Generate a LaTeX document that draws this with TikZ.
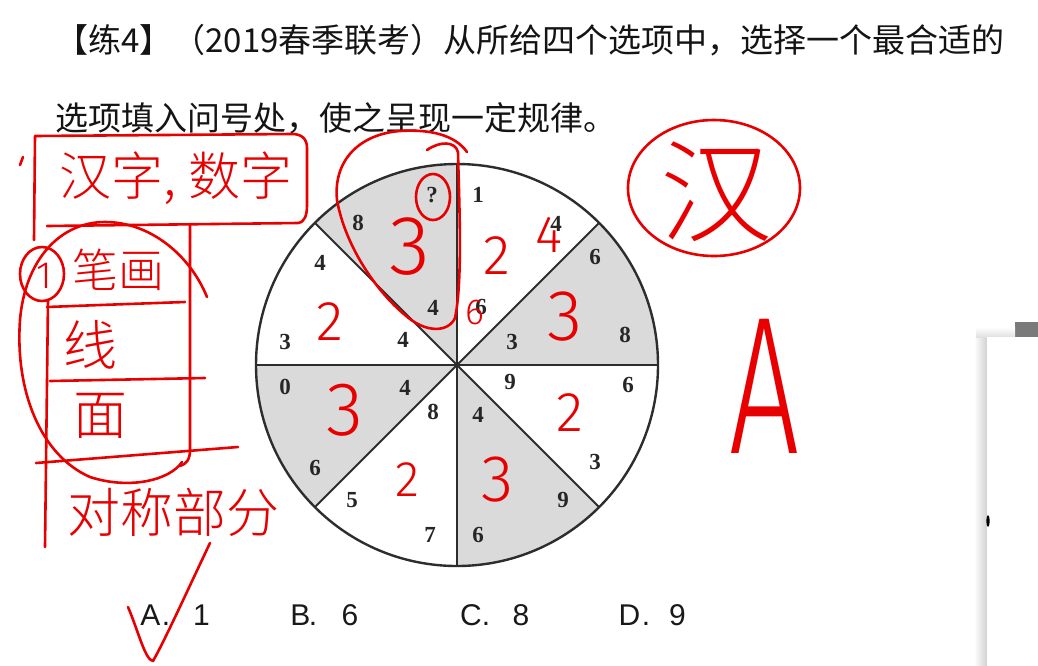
\documentclass[tikz,border=0pt]{standalone}
\usepackage{fontspec}
\setmainfont{Liberation Serif}
\newfontfamily\cjk{Noto Sans CJK SC}
\newfontfamily\cjkhand{Noto Sans CJK SC}[UprightFont={* Light}]
\newfontfamily\optfont{Liberation Sans}
\newfontfamily\handfont{Fira Sans}[UprightFont={* Light}]
\definecolor{inkred}{RGB}{232,0,0}
\definecolor{sectorgrey}{RGB}{218,218,218}
\definecolor{rimgrey}{RGB}{45,45,45}
\definecolor{tabgrey}{RGB}{122,122,122}
\tikzset{
  ink/.style={draw=inkred, line width=2.6, line cap=round, line join=round},
  inktext/.style={text=inkred, inner sep=0},
  num/.style={font=\fontsize{23}{23}\selectfont\bfseries, text=black!85, inner sep=0},
  title/.style={font=\cjk\fontsize{33}{33}\selectfont, text=black!92, inner sep=0, anchor=west},
  opt/.style={font=\optfont\fontsize{30}{30}\selectfont, text=black!90, inner sep=0, anchor=base},
  spoke/.style={draw=rimgrey, line width=1.8}
}
\begin{document}
\begin{tikzpicture}[x=1pt,y=-1pt]
\useasboundingbox (0,0) rectangle (1038,665);
\fill[white] (0,0) rectangle (1038,665);

% ---------- title ----------
\node[title] (t1) at (55,40) {【练4】（2019春季联考）从所给四个选项中，选择一个最合适的};
\node[title] (t2) at (55,118) {选项填入问号处，使之呈现一定规律。};

% ---------- disc ----------
\coordinate (O) at (457,365);
\begin{scope}
  \clip (O) circle[radius=201];
  \fill[sectorgrey] (O) -- (457,65) -- (157,65) -- cycle;
  \fill[sectorgrey] (O) -- (757,365) -- (757,65) -- cycle;
  \fill[sectorgrey] (O) -- (157,365) -- (157,665) -- cycle;
  \fill[sectorgrey] (O) -- (457,665) -- (757,665) -- cycle;
\end{scope}
\coordinate (pE) at (658,365);
\coordinate (pW) at (256,365);
\coordinate (pN) at (457,164);
\coordinate (pS) at (457,566);
\coordinate (pNE) at (599.1,222.9);
\coordinate (pNW) at (314.9,222.9);
\coordinate (pSE) at (599.1,507.1);
\coordinate (pSW) at (314.9,507.1);
\foreach \p in {pE,pW,pN,pS,pNE,pNW,pSE,pSW} \draw[spoke] (O) -- (\p);
\draw[draw=rimgrey, line width=2.4] (O) circle[radius=201];

% numbers on the disc
\node[num] (q)  at (432,195) {?};
\node[num] (n1) at (478,195) {1};
\node[num] (n2) at (358,223) {8};
\node[num] (n3) at (556,224) {4};
\node[num] (n4) at (320,263) {4};
\node[num] (n5) at (595,257) {6};
\node[num] (n6) at (433,308) {4};
\node[num] (n7) at (481,307) {6};
\node[num] (n8) at (285,342) {3};
\node[num] (n9) at (403,340) {4};
\node[num] (n10) at (512,342) {3};
\node[num] (n11) at (625,335) {8};
\node[num] (n12) at (285,387) {0};
\node[num] (n13) at (405,388) {4};
\node[num] (n14) at (510,382) {9};
\node[num] (n15) at (628,385) {6};
\node[num] (n16) at (433,412) {8};
\node[num] (n17) at (478,415) {4};
\node[num] (n18) at (315,468) {6};
\node[num] (n19) at (595,462) {3};
\node[num] (n20) at (352,500) {5};
\node[num] (n21) at (563,500) {9};
\node[num] (n22) at (430,535) {7};
\node[num] (n23) at (478,535) {6};

% ---------- options ----------
\node[opt] (oA)  at (150.5,625) {A};
\node[opt] (oAd) at (166,625) {.};
\node[opt] (oA1) at (201.5,625) {1};
\node[opt] (oB)  at (300.5,625) {B};
\node[opt] (oBd) at (313,625) {.};
\node[opt] (oB6) at (350,625) {6};
\node[opt] (oC)  at (471,625) {C};
\node[opt] (oCd) at (486,625) {.};
\node[opt] (oC8) at (521,625) {8};
\node[opt] (oD)  at (629.5,625) {D};
\node[opt] (oDd) at (646,625) {.};
\node[opt] (oD9) at (677.5,625) {9};

% ---------- right-hand panel ----------
\fill[tabgrey] (1015,322) rectangle (1038,337);
\shade[left color=white, right color=black!18] (974,337) rectangle (987,665);
\shade[top color=white, bottom color=black!12] (976,327) rectangle (1015,337);
\fill[white] (987,337) rectangle (1038,665);
\fill[black] (988,521) ellipse[x radius=1.6, y radius=6];

% ---------- red handwriting ----------
% box round the first words
\draw[ink] (47,226) -- (298,223) .. controls (305,222) and (307,215) .. (307,205)
  -- (307,148) .. controls (307,139) and (302,134) .. (292,134) -- (35,136) -- (34,240);
\draw[ink] (20,165) -- (23,157);
\node[inktext, font=\cjkhand\fontsize{52}{52}\selectfont] (h1) at (176,178) {汉字, 数字};
% column of items
\draw[ink] (190,225) -- (190,450) .. controls (190,460) and (186,464) .. (180,466);
\draw[ink] (48,300) -- (45,547);
\draw[ink] (47,307) .. controls (100,305) .. (185,302);
\draw[ink] (50,381) -- (205,378);
\draw[ink] (36,463) -- (238,447);
\draw[ink] (207,297) .. controls (190,255) and (150,222) .. (105,222)
  .. controls (60,222) and (25,260) .. (20,320)
  .. controls (15,390) and (40,455) .. (90,477)
  .. controls (130,490) and (170,480) .. (182,462);
\draw[ink] (42,274) ellipse[x radius=22, y radius=27];
\node[inktext, font=\handfont\fontsize{38}{38}\selectfont] (h0) at (44,276) {1};
\node[inktext, font=\cjkhand\fontsize{46}{46}\selectfont] (h2) at (118,270) {笔画};
\node[inktext, font=\cjkhand\fontsize{54}{54}\selectfont] (h3) at (90,345) {线};
\node[inktext, font=\cjkhand\fontsize{54}{54}\selectfont] (h4) at (100,416) {面};
\node[inktext, font=\cjkhand\fontsize{53}{53}\selectfont] (h5) at (173,512) {对称部分};
% tick at option A
\draw[ink] (128,607) .. controls (138,630) and (145,660) .. (153,661)
  .. controls (165,640) and (190,585) .. (210,543);

% marks on the disc
\draw[ink] (433,197) ellipse[x radius=17, y radius=23];
\draw[ink] (427,150) .. controls (440,141) and (455,141) .. (458,152)
  .. controls (459,200) and (463,280) .. (455,318)
  .. controls (448,333) and (425,333) .. (405,315)
  .. controls (375,290) and (345,245) .. (337,200)
  .. controls (333,160) and (360,134) .. (400,131)
  .. controls (430,129) and (455,135) .. (467,152);
\node[inktext, font=\handfont\fontsize{84}{84}\selectfont] (r1) at (410,247) {3};
\node[inktext, font=\handfont\fontsize{56}{56}\selectfont] (r2) at (497,256) {2};
\node[inktext, font=\handfont\fontsize{52}{52}\selectfont] (r3) at (549,235) {4};
\node[inktext, font=\handfont\fontsize{36}{36}\selectfont] (r4) at (475,313) {6};
\node[inktext, font=\handfont\fontsize{72}{72}\selectfont] (r5) at (565,317) {3};
\node[inktext, font=\handfont\fontsize{56}{56}\selectfont] (r6) at (330,322) {2};
\node[inktext, font=\handfont\fontsize{76}{76}\selectfont] (r7) at (345,410) {3};
\node[inktext, font=\handfont\fontsize{56}{56}\selectfont] (r8) at (570,413) {2};
\node[inktext, font=\handfont\fontsize{50}{50}\selectfont] (r9) at (407,480) {2};
\node[inktext, font=\handfont\fontsize{66}{66}\selectfont] (r10) at (498,480) {3};

% right-hand notes
\draw[ink] (714,188) ellipse[x radius=86, y radius=68];
\node[inktext, font=\cjkhand\fontsize{112}{112}\selectfont] (han) at (716,192) {汉};
\begin{scope}[shift={(765,386)}]
  \node[inktext, font=\handfont\fontsize{80}{80}\selectfont, xscale=1.55, yscale=2.45, transform shape] (bigA) at (0,0) {A};
\end{scope}
\end{tikzpicture}
\end{document}
